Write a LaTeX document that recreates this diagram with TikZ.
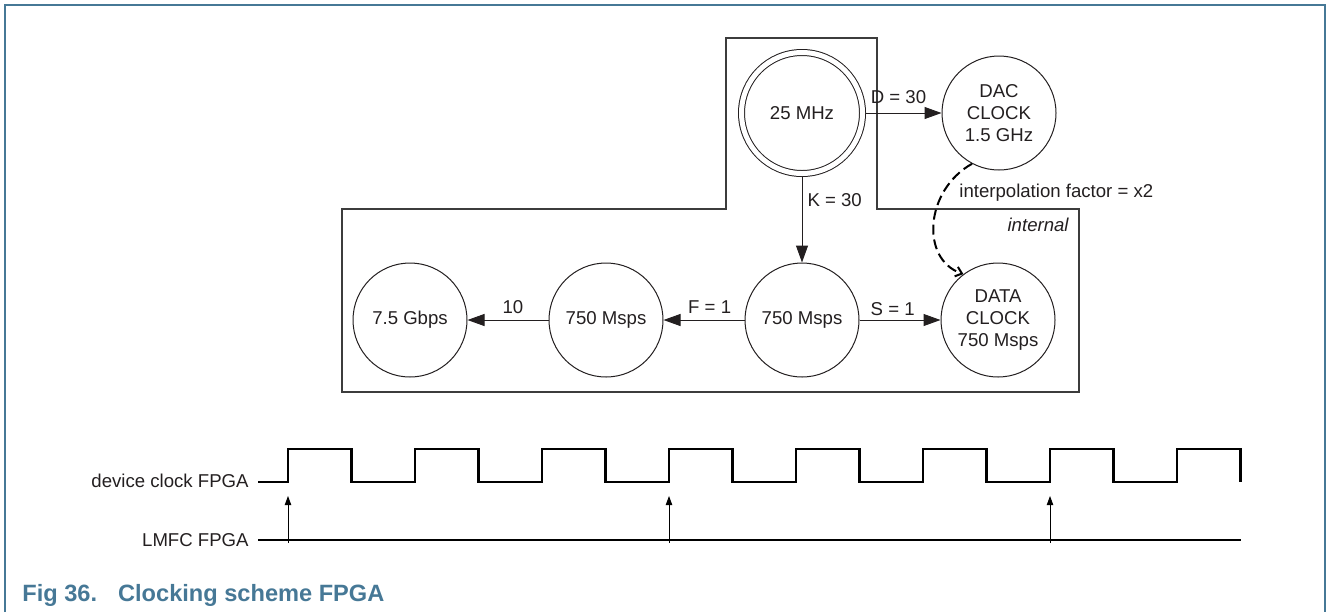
\documentclass[tikz,border=0pt]{standalone}
\usepackage{fontspec}
\setmainfont{Liberation Sans}
\usepackage{tikz}
\usetikzlibrary{arrows.meta, positioning, calc}
\usepackage{xcolor}
\definecolor{figblue}{RGB}{70,120,150}
\definecolor{ink}{RGB}{35,31,32}
\definecolor{boxgray}{RGB}{60,60,60}

\begin{document}
\begin{tikzpicture}[x=0.5pt, y=-0.5pt,
  every node/.style={font=\fontsize{9.3}{11}\selectfont, text=ink},
  clock/.style={circle, draw=ink, line width=0.5pt, minimum size=57pt, inner sep=0pt, align=center},
  lbl/.style={inner sep=0pt},
  link/.style={-{Triangle[length=8.5pt, width=6pt]}, line width=0.5pt, draw=ink},
  interp/.style={-{Straight Barb[length=3pt, width=5pt]}, line width=1pt, dash pattern=on 5pt off 2.5pt},
  wave/.style={line width=1.2pt, line join=miter},
  tick/.style={-{Triangle[length=4.5pt, width=3.2pt]}, line width=0.4pt}]
  \useasboundingbox (0,0) rectangle (1327,612);
  % page frame
  \draw[figblue, line width=1pt] (5,612) -- (5,5) -- (1325,5) -- (1325,612);
  % internal region
  \draw[boxgray, line width=0.8pt] (342,209) -- (726,209) -- (726,38) -- (877,38) -- (877,209)
    -- (1079,209) -- (1079,392) -- (342,392) -- cycle;
  \node[lbl, anchor=east] (internal) at (1069,225) {\itshape internal};
  % clocks
  \node[clock, double, double distance=2.5pt, minimum size=60.5pt, outer sep=1.75pt] (ref) at (802,113) {25 MHz};
  \node[clock] (dac) at (999,113) {DAC\\CLOCK\\1.5 GHz};
  \node[clock] (conv) at (802,320) {750 Msps};
  \node[clock] (frame) at (606,320) {750 Msps};
  \node[clock] (lane) at (410,320) {7.5 Gbps};
  \node[clock] (data) at (998,320) {DATA\\CLOCK\\750 Msps};
  % dividers
  \draw[link] (ref.east) -- node[lbl, above=4.5pt, pos=0.43] (dlbl) {D = 30} (dac.west);
  \draw[link] (ref.south) -- node[lbl, right=2.5pt, pos=0.27] (klbl) {K = 30} (conv.north);
  \draw[link] (conv.west) -- node[lbl, above=3pt, pos=0.43] (flbl) {F = 1} (frame.east);
  \draw[link] (frame.west) -- node[lbl, above=3pt, pos=0.44] (tenlbl) {10} (lane.east);
  \draw[link] (conv.east) -- node[lbl, above=2pt, pos=0.41] (slbl) {S = 1} (data.west);
  % interpolation
  \draw[interp] (dac.242) .. controls (925,190) and (920,259) .. (data.127);
  \node[lbl, anchor=west] (factor) at (959,193) {interpolation factor = x2};
  % timing
  \node[lbl, anchor=east] (devlbl) at (249,481) {device clock FPGA};
  \node[lbl, anchor=east] (lmfclbl) at (249,540) {LMFC FPGA};
  \draw[wave] (258,482) \foreach \k in {0,...,7} {
    -- ({288+127*\k},482) -- ({288+127*\k},449) -- ({351.5+127*\k},449) -- ({351.5+127*\k},482) };
  \draw[line width=1.1pt] (258,540) -- (1241,540);
  \foreach \x [count=\i] in {288,669,1050} {
    \coordinate (foot\i) at (\x,543);
    \coordinate (tip\i) at (\x,496);
    \draw[tick] (foot\i) -- (tip\i);
  }
  % caption
  \node[lbl, anchor=base west, text=figblue, font=\fontsize{11.8}{14}\selectfont\bfseries] (caption) at (22,601)
    {Fig 36.\hspace{10.5pt}Clocking scheme FPGA};
\end{tikzpicture}
\end{document}
